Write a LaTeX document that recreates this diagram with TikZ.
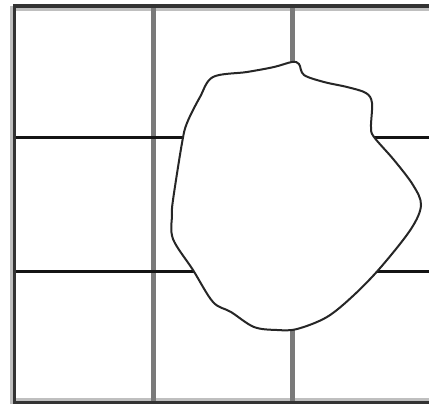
\documentclass[tikz,border=0pt]{standalone}
\begin{document}
\begin{tikzpicture}[x=1pt,y=-1pt,
  frameline/.style={line width=3.5pt,draw=black!80},
  shade/.style={line width=3pt,draw=black!25},
  vline/.style={line width=5pt,draw=black!52},
  hline/.style={line width=3pt,draw=black!92},
  blob/.style={line width=2pt,draw=black!85,fill=white}]
\useasboundingbox (0,0) rectangle (429,404);
% light shadows of frame
\draw[shade] (429,10) -- (16,10);
\draw[shade] (11,6) -- (11,404);
\draw[shade] (16,399.5) -- (429,399.5);
% grid
\coordinate (v1t) at (153,6); \coordinate (v1b) at (153,404);
\coordinate (v2t) at (292,6); \coordinate (v2b) at (292,404);
\coordinate (h1l) at (14,138); \coordinate (h1r) at (429,138);
\coordinate (h2l) at (14,271); \coordinate (h2r) at (429,271);
\draw[vline] (v1t) -- (v1b);
\draw[vline] (v2t) -- (v2b);
\draw[hline] (h1l) -- (h1r);
\draw[hline] (h2l) -- (h2r);
% frame
\coordinate (tl) at (14.5,6); \coordinate (tr) at (429,6);
\coordinate (bl) at (14.5,402.5); \coordinate (br) at (429,402.5);
\draw[frameline] (tr) -- (tl) -- (bl) -- (br);
% blob
\draw[blob] plot[smooth cycle, tension=0.55] coordinates {
 (213,77) (247,72) (274,67) (292,62) (299,64) (304,75) (324,82) (347,87)
 (366,93) (372,103) (371,127) (374,137) (394,160) (413,185) (421,205)
 (411,229) (381,267) (354,295) (327,317) (297,329) (277,330) (254,327)
 (231,312) (213,302) (193,270) (173,239) (172,215) (173,200) (182,143)
 (187,123) (200,97)};
\end{tikzpicture}
\end{document}
